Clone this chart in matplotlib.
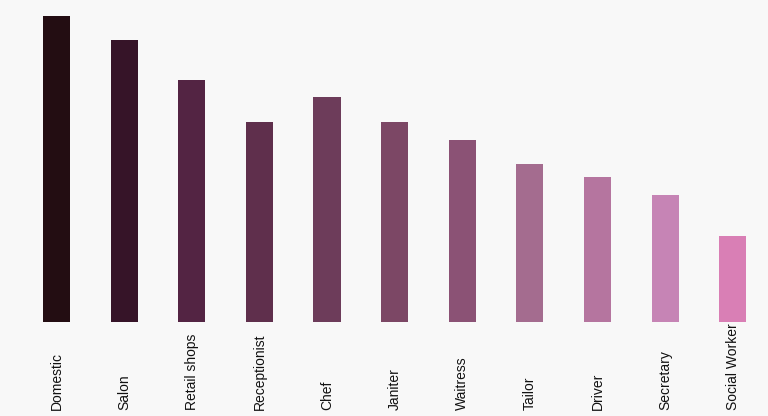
import matplotlib.pyplot as plt
from matplotlib.transforms import blended_transform_factory

jobs = ['Domestic', 'Salon', 'Retail shops', 'Receptionist', 'Chef', 'Janiter',
        'Waitress', 'Tailor', 'Driver', 'Secretary', 'Social Worker']
counts = [306, 282, 242, 200, 225, 200, 182, 158, 145, 127, 86]
colors = ['#230d12', '#361428', '#532443', '#5f2f4c', '#6d3c5a', '#7c4765',
          '#8b5275', '#a46c8f', '#b5759f', '#c684b5', '#d97fb5']

bg = '#f8f8f8'
fig = plt.figure(figsize=(7.68, 4.16), dpi=100, facecolor=bg)
ax = fig.add_axes([0, 94 / 416, 1, 322 / 416], facecolor=bg)

x = list(range(len(jobs)))
ax.bar(x, counts, width=0.4, color=colors)

ax.set_xlim(-0.835, 10.52)
ax.set_ylim(0, 322)
ax.set_xticks([])
ax.set_yticks([])
for s in ax.spines.values():
    s.set_visible(False)

# labels start at the bottom edge and read upward
trans = blended_transform_factory(ax.transData, fig.transFigure)
for xi, name in zip(x, jobs):
    ax.text(xi, 6 / 416, name, transform=trans, rotation=90,
            rotation_mode='anchor', ha='left', va='center',
            family='Liberation Sans', fontsize=10, color='#111111')

fig.savefig('out.png', dpi=100, facecolor=bg)
